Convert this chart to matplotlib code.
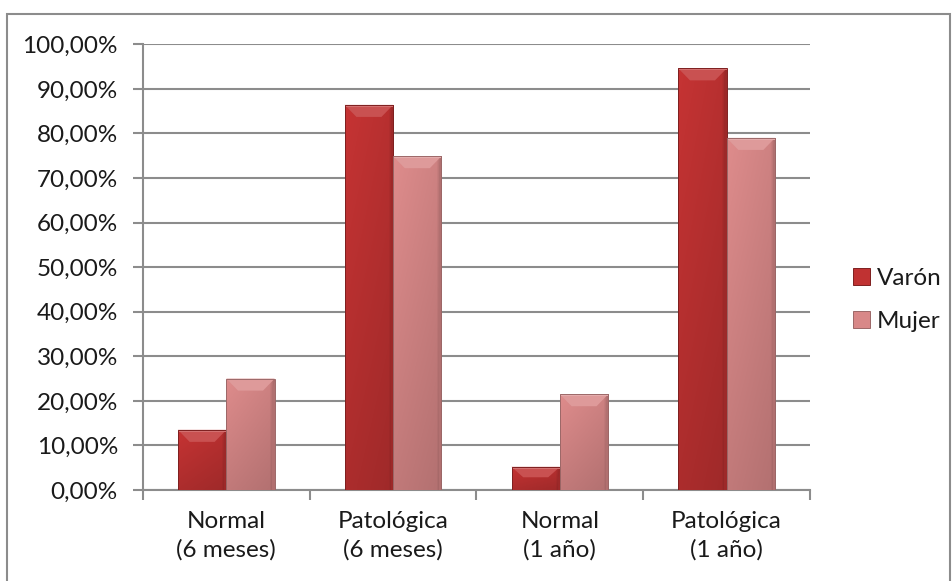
import numpy as np
import matplotlib.pyplot as plt
from matplotlib.patches import Patch, Polygon, Rectangle
from matplotlib.ticker import FixedLocator, FuncFormatter

plt.rcParams['font.family'] = ['Lato', 'DejaVu Sans']

# Data
categorias = ["Normal\n(6 meses)", "Patológica\n(6 meses)", "Normal\n(1 año)", "Patológica\n(1 año)"]
varon = [0.135, 0.864, 0.052, 0.946]
mujer = [0.250, 0.749, 0.215, 0.790]
series = ["Varón", "Mujer"]

base_colors = {"Varón": np.array([192, 50, 50]) / 255,
               "Mujer": np.array([216, 136, 136]) / 255}
edge_colors = {"Varón": "#7e2020", "Mujer": "#9c6868"}

fig = plt.figure(figsize=(9.53, 5.81), dpi=100)
ax = fig.add_axes([0.150, 0.1566, 0.700, 0.7672])

x = np.arange(len(categorias))
w = 0.29
bars_v = ax.bar(x - w / 2, varon, w, color=base_colors["Varón"], zorder=3)
bars_m = ax.bar(x + w / 2, mujer, w, color=base_colors["Mujer"], zorder=3)


def shade(container, name):
    """Gradient fill plus a bevelled top, clipped to each bar."""
    base = base_colors[name]
    nx, ny = 40, 60
    hx = np.linspace(0, 1, nx)
    # slightly lighter on the left, darker towards the right edge
    hprof = 1.03 - 0.08 * hx - 0.18 * np.clip((hx - 0.9) / 0.1, 0, 1)
    vy = np.linspace(0, 1, ny)[:, None]
    vprof = 0.87 + 0.13 * vy
    for p in container.patches:
        x0, y0 = p.get_x(), p.get_y()
        pw, ph = p.get_width(), p.get_height()
        img = np.clip(base[None, None, :] * (hprof[None, :, None] * vprof[:, :, None]), 0, 1)
        im = ax.imshow(img, extent=(x0, x0 + pw, y0, y0 + ph), origin="lower",
                       aspect="auto", zorder=3.1, interpolation="bilinear")
        im.set_clip_path(p)
        dx = 0.07
        dy = min(0.027, ph * 0.45)
        top = y0 + ph
        light = base + (1 - base) * 0.15
        ax.add_patch(Polygon([(x0, top), (x0 + pw, top), (x0 + pw - dx, top - dy),
                              (x0 + dx, top - dy)], closed=True, facecolor=light,
                             edgecolor="none", zorder=3.2))
        ax.add_patch(Polygon([(x0, top), (x0 + pw, top), (x0 + pw, top - 0.004),
                              (x0, top - 0.004)], closed=True,
                             facecolor=base + (1 - base) * 0.3, edgecolor="none", zorder=3.25))
        side = np.clip(base * 0.82, 0, 1)
        ax.add_patch(Polygon([(x0 + pw, top), (x0 + pw, y0), (x0 + pw - 0.014, y0),
                              (x0 + pw - 0.014, top - dy)], closed=True,
                             facecolor=side, edgecolor="none", zorder=3.2))
        ax.add_patch(Rectangle((x0, y0), pw, ph, fill=False,
                               edgecolor=edge_colors[name], lw=0.7, zorder=3.3))


shade(bars_v, "Varón")
shade(bars_m, "Mujer")

ax.set_xlim(-0.5, len(categorias) - 0.5)
ax.set_ylim(0, 1.0)

# Axes styling
grid_c = "#8c8c8c"
ax.yaxis.set_major_locator(FixedLocator(np.arange(0, 1.01, 0.1)))
ax.yaxis.set_major_formatter(FuncFormatter(lambda v, _: f"{v * 100:.2f}%".replace(".", ",")))
ax.grid(axis="y", color=grid_c, lw=1.5, zorder=1)
ax.set_axisbelow(True)

ax.xaxis.set_major_locator(FixedLocator(np.arange(-0.5, len(categorias), 1.0)))
ax.xaxis.set_major_formatter(FuncFormatter(lambda v, _: ""))
ax.xaxis.set_minor_locator(FixedLocator(x))
ax.set_xticklabels(categorias, minor=True, linespacing=1.4)
ax.tick_params(axis="x", which="major", length=7, width=1.5, color=grid_c, direction="out")
ax.tick_params(axis="x", which="minor", length=0, pad=15, labelsize=17.5, labelcolor="#1a1a1a")
ax.tick_params(axis="y", length=7, width=1.5, color=grid_c, pad=11, labelsize=17.5,
               labelcolor="#1a1a1a")

for s in ("top", "right"):
    ax.spines[s].set_visible(False)
for s in ("left", "bottom"):
    ax.spines[s].set_color(grid_c)
    ax.spines[s].set_linewidth(1.5)

# Legend
handles = [Patch(facecolor=base_colors[n], edgecolor=edge_colors[n], lw=0.7) for n in series]
fig.legend(handles, series, loc="center left", bbox_to_anchor=(0.872, 0.483),
           frameon=False, fontsize=17.5, handlelength=0.7, handleheight=0.7,
           handletextpad=0.3, labelspacing=0.9, labelcolor="#1a1a1a")

# Chart border
fig.add_artist(Rectangle((7 / 953, -0.05), 943 / 953, 1.05 - 14 / 581,
                         transform=fig.transFigure, fill=False,
                         edgecolor="#8c8c8c", lw=1.5))

fig.savefig("out.png", dpi=100)
